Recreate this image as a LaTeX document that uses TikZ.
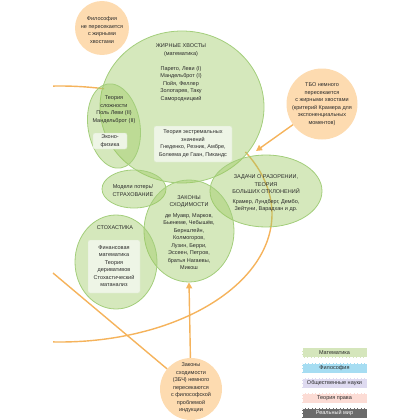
\documentclass[tikz,border=0pt]{standalone}
\usepackage{fontspec}
\setmainfont{Liberation Sans}
\usetikzlibrary{shapes.geometric,arrows.meta}
\definecolor{gfill}{HTML}{9BC85F}
\definecolor{gline}{HTML}{A3CE7B}
\definecolor{boxfill}{HTML}{EEF5E6}
\definecolor{boxline}{HTML}{DCEBCB}
\definecolor{ofill}{HTML}{FDDBB0}
\definecolor{oline}{HTML}{F5B35C}
\definecolor{txt}{HTML}{2A2A2A}
\definecolor{lmath}{HTML}{D5E6BC}
\definecolor{lphil}{HTML}{A6DDF2}
\definecolor{lsoc}{HTML}{DEDAF0}
\definecolor{llaw}{HTML}{FCDCD5}
\definecolor{lreal}{HTML}{6B6B6B}
\begin{document}
\begin{tikzpicture}[x=1pt,y=-1pt,
  greenshape/.style={fill=gfill, fill opacity=0.42, draw=gline, line width=0.8pt, inner sep=0pt},
  lbl/.style={align=center, font=\fontsize{5.5}{7.5}\selectfont, text=txt, inner sep=0pt},
  innerbox/.style={fill=boxfill, draw=boxline, line width=0.4pt, rounded corners=2pt, inner sep=0pt},
  orangecirc/.style={circle, fill=ofill, inner sep=0pt},
  oarrow/.style={draw=oline, line width=1.4pt, -{Triangle[length=6pt,width=6pt]}},
  oline/.style={draw=oline, line width=1.4pt},
  legend/.style={minimum width=65pt, minimum height=10pt, inner sep=0pt, font=\fontsize{5.5}{6.5}\selectfont, text=txt, draw=white, densely dotted, line width=0.4pt}
]
\useasboundingbox (0,0) rectangle (420,420);

% orange big arc (two visible pieces)
\begin{scope}
\clip (53,0) rectangle (420,420);
\draw[oline] plot[domain=-94:-78, samples=20] ({60+212*cos(\x)},{214+128*sin(\x)});
\draw[oline] plot[domain=-29:94, samples=100] ({60+212*cos(\x)},{214+128*sin(\x)});
\end{scope}

% green shapes
\node[greenshape, ellipse, minimum width=164pt, minimum height=152pt] (fat) at (182,107) {};
\node[greenshape, ellipse, minimum width=52pt, minimum height=85pt, rotate=9] (compl) at (114,126) {};
\node[greenshape, ellipse, minimum width=64pt, minimum height=38pt] (loss) at (134,189) {};
\node[greenshape, ellipse, minimum width=112pt, minimum height=72pt] (ruin) at (266,191) {};
\node[greenshape, ellipse, minimum width=90pt, minimum height=102pt] (conv) at (189,231) {};
\node[greenshape, ellipse, minimum width=82pt, minimum height=94pt] (stoch) at (116,262) {};

% inner boxes
\node[innerbox, minimum width=34pt, minimum height=16pt] (econ) at (110,141) {};
\node[innerbox, minimum width=78pt, minimum height=36pt] (evt) at (193,144) {};
\node[innerbox, minimum width=52pt, minimum height=53pt] (stochbox) at (114,266.5) {};

% orange circles
\node[orangecirc, minimum size=54pt] (phil) at (102,28) {};
\node[orangecirc, minimum size=71pt] (tbo) at (322,104) {};
\node[orangecirc, minimum size=62pt] (bot) at (191,389) {};

% connectors
\coordinate (tbotip) at (256,151);
\coordinate (leftend) at (53,273);
\draw[oarrow] (tbo) -- (tbotip);
\draw[oarrow] (bot) -- (conv.south);
\draw[oline] (bot) -- (leftend);

% labels
\node[lbl] (tphil) at (102,30) {Философия\\не пересекается\\с жирными\\хвостами};
\node[lbl] (tfat) at (181,72.5) {ЖИРНЫЕ ХВОСТЫ\\(математика)\\[7.5pt]Парето, Леви (I)\\Мандельброт (I)\\Пойя, Феллер\\Золотарев, Таку\\Самородницкий};
\node[lbl] (tcompl) at (114,109.5) {Теория\\сложности\\Поль Леви (II)\\Мандельброт (II)};
\node[lbl] (tecon) at (110,141) {Эконо-\\физика};
\node[lbl] (tevt) at (193,143.5) {Теория экстремальных\\значений\\Гнеденко, Резник, Амбре,\\Болкема де Гаан, Пикандс};
\node[lbl] (tloss) at (133,190.5) {Модели потерь/\\СТРАХОВАНИЕ};
\node[lbl] (truin) at (266,184.5) {ЗАДАЧИ О РАЗОРЕНИИ,\\ТЕОРИЯ\\БОЛЬШИХ ОТКЛОНЕНИЙ};
\node[lbl] (truin2) at (266,205.5) {Крамер, Лундберг, Дембо,\\Зейтуни, Варадхан и др.};
\node[lbl] (tconv) at (189,201.5) {ЗАКОНЫ\\СХОДИМОСТИ};
\node[lbl] (tconv2) at (189,241.5) {де Муавр, Марков,\\Бьенеме, Чебышёв,\\Бернштейн,\\Колмогоров,\\Лузин, Берри,\\Эссеен, Петров,\\братья Нагаевы,\\Микош};
\node[lbl] (tstoch) at (115,228) {СТОХАСТИКА};
\node[lbl] (tstoch2) at (114,266) {Финансовая\\математика\\Теория\\деривативов\\Стохастический\\матанализ};
\node[lbl] (ttbo) at (322,104) {ТБО немного\\пересекается\\с жирными хвостами\\(критерий Крамера для\\экспоненциальных\\моментов)};
\node[lbl] (tbot) at (191,388) {Законы\\сходимости\\(ЗБЧ) немного\\пересекаются\\с философской\\проблемой\\индукции};

% legend
\node[legend, fill=lmath] (l1) at (334.5,352.5) {Математика};
\node[legend, fill=lphil] (l2) at (334.5,368) {Философия};
\node[legend, fill=lsoc] (l3) at (334.5,383) {Общественные науки};
\node[legend, fill=llaw] (l4) at (334.5,398) {Теория права};
\node[legend, fill=lreal, text=white] (l5) at (334.5,413) {Реальный мир};
\end{tikzpicture}
\end{document}
